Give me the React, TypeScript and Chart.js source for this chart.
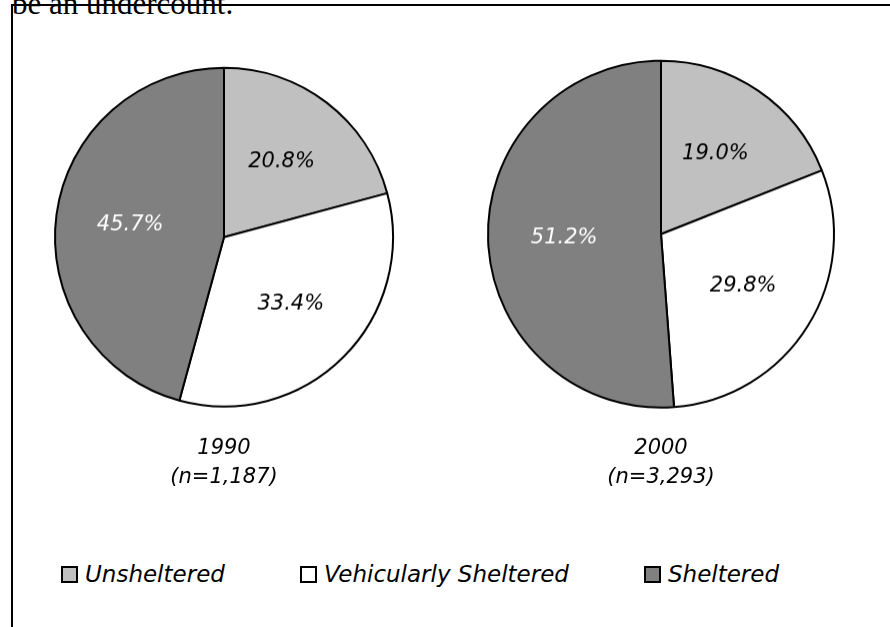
import React, { useEffect, useRef } from "react";
import { Chart, registerables } from "chart.js";

Chart.register(...registerables);

// ---- data ----
const categories = ["Unsheltered", "Vehicularly Sheltered", "Sheltered"];
const years = ["1990", "2000"];
const sampleSizes = ["(n=1,187)", "(n=3,293)"];
const values1990 = [20.8, 33.4, 45.7];
const values2000 = [19.0, 29.8, 51.2];

// ---- styles ----
const sliceColors = ["#c0c0c0", "#ffffff", "#808080"];
const labelColors = ["#000000", "#000000", "#ffffff"];
const FONT = '"DejaVu Sans", "Open Sans", sans-serif';

const pctLabels = {
  id: "pctLabels",
  afterDatasetsDraw(chart: any) {
    const ctx = chart.ctx;
    const meta = chart.getDatasetMeta(0);
    const ds = chart.data.datasets[0];
    meta.data.forEach((arc: any, i: number) => {
      const p = arc.getProps(["x", "y", "startAngle", "endAngle", "outerRadius"], true);
      const mid = (p.startAngle + p.endAngle) / 2;
      const r = p.outerRadius * 0.56;
      ctx.save();
      ctx.font = `italic 21px ${FONT}`;
      ctx.fillStyle = labelColors[i];
      ctx.textAlign = "center";
      ctx.textBaseline = "middle";
      ctx.fillText(Number(ds.data[i]).toFixed(1) + "%", p.x + Math.cos(mid) * r, p.y + Math.sin(mid) * r);
      ctx.restore();
    });
  },
};

type PieProps = {
  values: number[];
  year: string;
  n: string;
  cx: number;
  cy: number;
  radius: number;
  labelMidY: number;
};

const BOX = 380;
const LINE_H = 29;

function Pie({ values, year, n, cx, cy, radius, labelMidY }: PieProps) {
  const ref = useRef<HTMLCanvasElement | null>(null);
  const padTop = labelMidY - LINE_H / 2 - (cy + BOX / 2);
  const height = BOX + padTop + LINE_H * 2 + 12;
  useEffect(() => {
    if (!ref.current) return;
    const chart = new Chart(ref.current, {
      type: "pie",
      data: {
        labels: categories,
        datasets: [
          {
            data: values,
            backgroundColor: sliceColors,
            borderColor: "#000000",
            borderWidth: 2,
            radius: radius,
          } as any,
        ],
      },
      options: {
        responsive: false,
        animation: false,
        events: [],
        layout: { padding: 0 },
        plugins: {
          legend: { display: false },
          tooltip: { enabled: false },
          title: {
            display: true,
            position: "bottom",
            text: [year, n],
            color: "#000000",
            font: { family: FONT, style: "italic", weight: "normal", size: 21, lineHeight: LINE_H / 21 },
            padding: { top: padTop, bottom: 12 },
          },
        },
      },
      plugins: [pctLabels],
    });
    return () => chart.destroy();
  }, [values, year, n, radius, padTop]);
  return (
    <canvas
      ref={ref}
      width={BOX}
      height={height}
      style={{ position: "absolute", left: cx - BOX / 2, top: cy - BOX / 2, width: BOX, height }}
    />
  );
}

export default function App() {
  return (
    <div
      style={{
        position: "fixed",
        left: 0,
        top: 0,
        width: 890,
        height: 627,
        background: "#ffffff",
        overflow: "hidden",
      }}
    >
      <div
        style={{
          position: "absolute",
          left: 12,
          top: -12,
          fontFamily: '"Liberation Serif", "Times New Roman", serif',
          fontSize: 31,
          lineHeight: "31px",
          whiteSpace: "nowrap",
          color: "#000",
        }}
      >
        be an undercount.
      </div>
      <div style={{ position: "absolute", left: 11, top: 4, width: 879, height: 2, background: "#000" }} />
      <div style={{ position: "absolute", left: 11, top: 4, width: 2, height: 623, background: "#000" }} />
      <Pie values={values1990} year={years[0]} n={sampleSizes[0]} cx={224} cy={237} radius={169} labelMidY={448} />
      <Pie values={values2000} year={years[1]} n={sampleSizes[1]} cx={661} cy={234} radius={173} labelMidY={448} />
      <div
        style={{
          position: "absolute",
          left: 61,
          top: 557,
          height: 34,
          display: "flex",
          alignItems: "center",
          gap: 75,
          fontFamily: FONT,
          fontStyle: "italic",
          fontSize: 23,
          color: "#000",
          whiteSpace: "nowrap",
        }}
      >
        {categories.map((c, i) => (
          <div key={c} style={{ display: "flex", alignItems: "center" }}>
            <span
              style={{
                display: "inline-block",
                width: 13,
                height: 13,
                border: "2px solid #000",
                background: sliceColors[i],
                marginRight: 7,
              }}
            />
            <span>{c}</span>
          </div>
        ))}
      </div>
    </div>
  );
}
